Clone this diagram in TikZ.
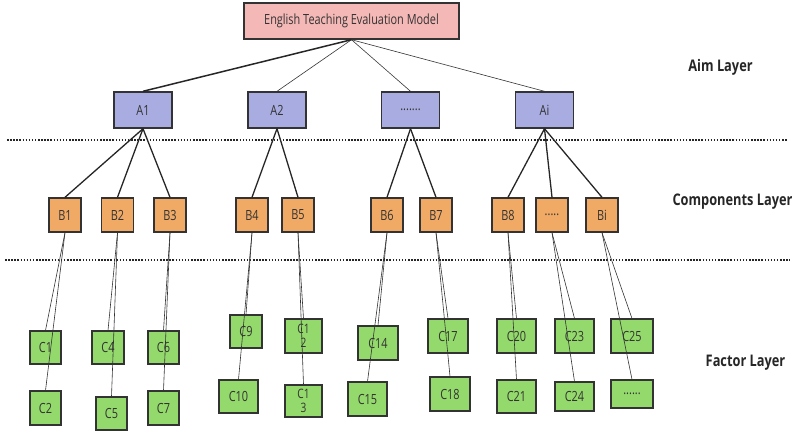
\documentclass[tikz,border=0pt]{standalone}
\usepackage{fontspec}
\setmainfont{Open Sans}[FakeStretch=0.78]
\newfontfamily\labfont{Open Sans}[FakeStretch=0.8]
\definecolor{topfill}{HTML}{F4B8B6}
\definecolor{afill}{HTML}{A8ACE0}
\definecolor{bfill}{HTML}{F0AA66}
\definecolor{cfill}{HTML}{94D96C}
\definecolor{edge}{HTML}{333333}
\definecolor{txt}{HTML}{333333}
\begin{document}
\begin{tikzpicture}[x=1pt,y=-1pt,
  box/.style={draw=edge, line width=1.4pt, inner sep=0pt, text=txt, font=\fontsize{14}{14}\selectfont, align=center},
  topbox/.style={box, fill=topfill, minimum width=215pt, minimum height=36pt},
  abox/.style={box, fill=afill, minimum width=58pt, minimum height=36pt},
  bbox/.style={box, fill=bfill, minimum width=32pt, minimum height=34pt},
  cbox/.style={box, fill=cfill, line width=1.1pt, minimum height=33pt},
  twoline/.style={font=\fontsize{13}{14.5}\selectfont},
  layer/.style={font=\labfont\bfseries\fontsize{16}{16}\selectfont, text=black!85},
  thin/.style={draw=black!80, line width=0.6pt},
  mid/.style={draw=black!85, line width=1.3pt},
  sep/.style={draw=black!85, line width=1.5pt, dash pattern=on 1.5pt off 1.6pt}
]
\useasboundingbox (0,0) rectangle (799,432);
% separators
\coordinate (s1a) at (7,140); \coordinate (s1b) at (788,140);
\coordinate (s2a) at (5,260); \coordinate (s2b) at (790,260);
\draw[sep] (s1a) -- (s1b);
\draw[sep] (s2a) -- (s2b);
% top
\node[topbox] (top) at (351.5,21) {English Teaching Evaluation Model};
% A layer
\node[abox] (a1) at (143,110) {A1};
\node[abox] (a2) at (277,110) {A2};
\node[abox] (ad) at (410.5,110) {.......};
\node[abox] (ai) at (544.5,110) {Ai};
% B layer
\node[bbox] (b1) at (65,215) {B1};
\node[bbox] (b2) at (117.5,215) {B2};
\node[bbox] (b3) at (170,215) {B3};
\node[bbox] (b4) at (252,215) {B4};
\node[bbox] (b5) at (298,215) {B5};
\node[bbox] (b6) at (387,215) {B6};
\node[bbox] (b7) at (436,215) {B7};
\node[bbox] (b8) at (508,215) {B8};
\node[bbox] (bd) at (552,215) {.....};
\node[bbox] (bi) at (602,215) {Bi};
% C layer
\node[cbox, minimum width=31pt] (c1) at (45.5,347.5) {C1};
\node[cbox, minimum width=31pt, minimum height=34pt] (c2) at (45.5,408) {C2};
\node[cbox, minimum width=32pt] (c4) at (108,347.5) {C4};
\node[cbox, minimum width=31pt] (c5) at (111.5,413.5) {C5};
\node[cbox, minimum width=31pt] (c6) at (163.5,347.5) {C6};
\node[cbox, minimum width=31pt, minimum height=34pt] (c7) at (163.5,408) {C7};
\node[cbox, minimum width=32pt] (c9) at (246,331.5) {C9};
\node[cbox, minimum width=39pt] (c10) at (238.5,396.5) {C10};
\node[cbox, twoline, minimum width=37pt, minimum height=34pt] (c12) at (303.5,336) {C1\\2};
\node[cbox, twoline, minimum width=37pt, minimum height=32pt] (c13) at (303.5,401) {C1\\3};
\node[cbox, minimum width=40pt, minimum height=34pt] (c14) at (378,343) {C14};
\node[cbox, minimum width=39pt, minimum height=34pt] (c15) at (367.5,399) {C15};
\node[cbox, minimum width=40pt, minimum height=34pt] (c17) at (448,336) {C17};
\node[cbox, minimum width=40pt, minimum height=34pt] (c18) at (450,394) {C18};
\node[cbox, minimum width=39pt, minimum height=34pt] (c20) at (516.5,336) {C20};
\node[cbox, minimum width=39pt] (c21) at (516.5,396.5) {C21};
\node[cbox, minimum width=39pt, minimum height=34pt] (c23) at (574.5,336) {C23};
\node[cbox, minimum width=39pt, minimum height=29pt] (c24) at (574.5,396.5) {C24};
\node[cbox, minimum width=42pt, minimum height=34pt] (c25) at (632,336) {C25};
\node[cbox, minimum width=42pt, minimum height=28pt] (cd) at (632,394) {......};
% layer labels
\node[layer] (lab1) at (720.5,67) {Aim Layer};
\node[layer] (lab2) at (732.5,202) {Components Layer};
\node[layer] (lab3) at (745.5,363) {Factor Layer};
% top -> A
\draw[draw=black!85, line width=1.5pt] (top.south) -- (a1.north);
\draw[thin] (top.south) -- (a2.north);
\draw[thin] (top.south) -- (ad.north);
\draw[thin] (top.south) -- (ai.north);
% A -> B
\draw[mid] (a1.south) -- (b1.north);
\draw[mid] (a1.south) -- (b2.north);
\draw[mid] (a1.south) -- (b3.north);
\draw[mid] (a2.south) -- (b4.north);
\draw[mid] (a2.south) -- (b5.north);
\draw[mid] (ad.south) -- (b6.north);
\draw[mid] (ad.south) -- (b7.north);
\draw[mid] (ai.south) -- (b8.north);
\draw[mid] (ai.south) -- (bd.north);
\draw[mid] (ai.south) -- (bi.north);
% B -> C
\draw[thin] (b1.south) -- (c1.north);
\draw[thin] (b1.south) -- (c2.north);
\draw[thin] (b2.south) -- (c4.north);
\draw[thin] (b2.south) -- (c5.north);
\draw[thin] (b3.south) -- (c6.north);
\draw[thin] (b3.south) -- (c7.north);
\draw[thin] (b4.south) -- (c9.north);
\draw[thin] (b4.south) -- (c10.north);
\draw[thin] (b5.south) -- (c12.north);
\draw[thin] (b5.south) -- (c13.north);
\draw[thin] (b6.south) -- (c14.north);
\draw[thin] (b6.south) -- (c15.north);
\draw[thin] (b7.south) -- (c17.north);
\draw[thin] (b7.south) -- (c18.north);
\draw[thin] (b8.south) -- (c20.north);
\draw[thin] (b8.south) -- (c21.north);
\draw[thin] (bd.south) -- (c23.north);
\draw[thin] (bd.south) -- (c24.north);
\draw[thin] (bi.south) -- (c25.north);
\draw[thin] (bi.south) -- (cd.north);
\end{tikzpicture}
\end{document}
